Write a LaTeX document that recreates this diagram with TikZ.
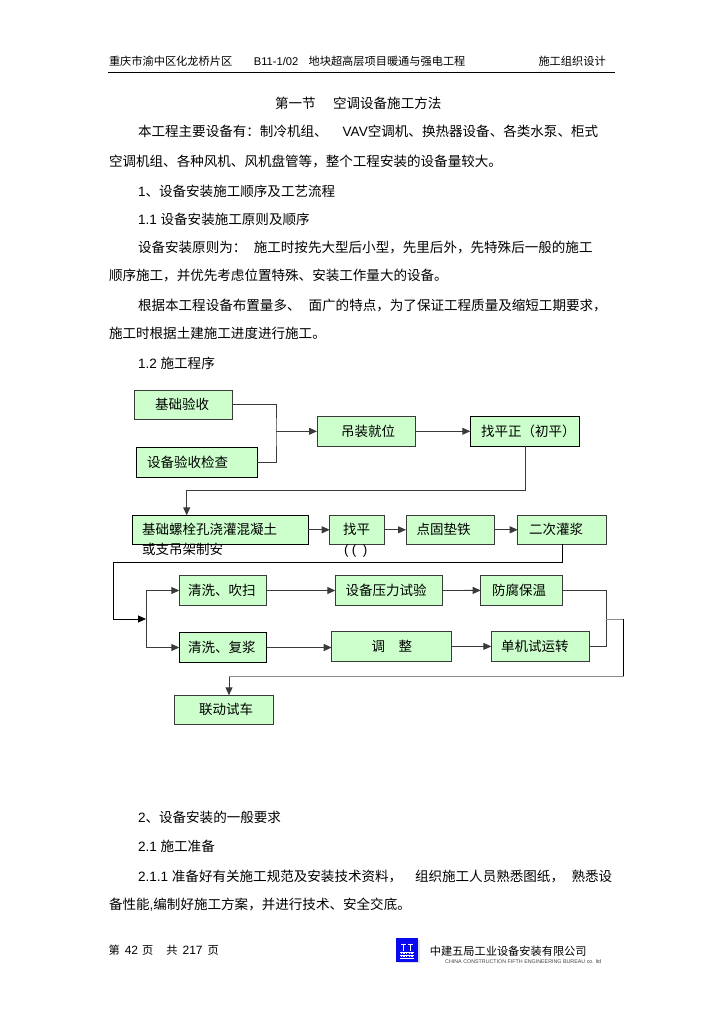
\documentclass[tikz,border=0pt]{standalone}
\usepackage{fontspec}
\setmainfont{Noto Sans CJK SC}
\newfontfamily\latf{Liberation Sans}
\usetikzlibrary{arrows.meta}
\definecolor{boxgreen}{HTML}{CCFFCC}
\definecolor{darkline}{HTML}{3A3A3A}
\definecolor{logoblue}{HTML}{0A0AF0}
\tikzset{
  txt/.style={anchor=base west,inner sep=0pt,outer sep=0pt,font=\fontsize{13.55}{15}\selectfont,text=black},
  small/.style={txt,font=\fontsize{11.2}{13}\selectfont},
  flow/.style={draw=darkline,fill=boxgreen,line width=0.9pt,inner sep=0pt,outer sep=0pt,align=left,font=\fontsize{13.5}{15}\selectfont,text=black},
  flowk/.style={flow,draw=black},
  conn/.style={draw=darkline,line width=0.9pt},
  grayconn/.style={draw=black!45,line width=0.9pt},
  arr/.style={conn,-{Triangle[length=8pt,width=7pt]}},
}
\begin{document}
\begin{tikzpicture}[x=1pt,y=-1pt]
\useasboundingbox (0,0) rectangle (724,1024);
% header
\node[small] (h1) at (109,65.2) {重庆市渝中区化龙桥片区};
\node[small] (h2) at (253.8,65.2) {\latf B11-1/02};
\node[small] (h3) at (308.6,65.2) {地块超高层项目暖通与强电工程};
\node[small] (h4) at (538.5,65.2) {施工组织设计};
\coordinate (ruleL) at (108,72.7);
\coordinate (ruleR) at (615,72.7);
\draw[line width=0.8pt] (ruleL) -- (ruleR);
% body text
\node[txt] (t1) at (275,109) {第一节};
\node[txt] (t2) at (333,109) {空调设备施工方法};
\node[txt] (b1) at (138,137) {本工程主要设备有：制冷机组、};
\node[txt] (b2) at (342.7,137) {{\latf VAV}空调机、换热器设备、各类水泵、柜式};
\node[txt] (b3) at (109,166.7) {空调机组、各种风机、风机盘管等，整个工程安装的设备量较大。};
\node[txt] (b4) at (138,196.4) {{\latf 1}、设备安装施工顺序及工艺流程};
\node[txt] (b5) at (138,224.5) {{\latf 1.1 }设备安装施工原则及顺序};
\node[txt] (b6) at (138,252) {设备安装原则为：};
\node[txt] (b7) at (253.8,252) {施工时按先大型后小型，先里后外，先特殊后一般的施工};
\node[txt] (b8) at (109,280.6) {顺序施工，并优先考虑位置特殊、安装工作量大的设备。};
\node[txt] (b9) at (138,310) {根据本工程设备布置量多、};
\node[txt] (b10) at (308.6,310) {面广的特点，为了保证工程质量及缩短工期要求，};
\node[txt] (b11) at (109,338) {施工时根据土建施工进度进行施工。};
\node[txt] (b12) at (138,368.5) {{\latf 1.2 }施工程序};
\node[txt] (c1) at (138,822.6) {{\latf 2}、设备安装的一般要求};
\node[txt] (c2) at (138,851.6) {{\latf 2.1 }施工准备};
\node[txt] (c3) at (138,881) {{\latf 2.1.1 }准备好有关施工规范及安装技术资料，};
\node[txt] (c4) at (415,881) {组织施工人员熟悉图纸，};
\node[txt] (c5) at (571.6,881) {熟悉设};
\node[txt] (c6) at (109,909.8) {备性能{\latf ,}编制好施工方案，并进行技术、安全交底。};
% footer
\node[small] (f1) at (108.6,954.5) {第\hspace{5pt}{\latf\fontsize{12}{13}\selectfont 42}\hspace{4pt}页};
\node[small] (f2) at (166.4,954.5) {共\hspace{5pt}{\latf\fontsize{12}{13}\selectfont 217}\hspace{5pt}页};
\fill[black!12] (398,940) rectangle (420,963);
\node[fill=logoblue,minimum width=22pt,minimum height=23.5pt,inner sep=0pt,outer sep=0pt] (logo) at (407,949.8) {};
\draw[white,line width=1pt] (401,944) -- (406,944) (403.5,944) -- (403.5,951) (408,944) -- (413,944) (410.5,944) -- (410.5,951)
  (400,952) -- (414,952) (400,955) -- (414,955) (400,958) -- (414,958);
\draw[white,line width=.8pt,dash pattern=on 1.5pt off 1.2pt] (400.5,953.5) -- (414,953.5) (400.5,956.5) -- (414,956.5);
\node[small] (f3) at (429.8,955.2) {中建五局工业设备安装有限公司};
\node[anchor=base west,inner sep=0pt,font=\latf\fontsize{5.33}{6}\selectfont,text=black!75] (f4) at (445,963) {CHINA CONSTRUCTION FIFTH ENGINEERING BUREAU co. ltd};
% flow boxes
\node[flow,text width=98.4pt,minimum height=29pt] (jcys) at (183.5,404.8) {\hspace*{20.7pt}基础验收};
\node[flowk,text width=120.5pt,minimum height=29.3pt] (sbys) at (196.75,462.3) {\hspace*{10.5pt}设备验收检查};
\node[flow,text width=98pt,minimum height=29.3pt] (dzjw) at (366,431.3) {\hspace*{24pt}吊装就位};
\node[flowk,text width=109.4pt,minimum height=29.3pt] (zpz) at (525,431.3) {\hspace*{10.7pt}找平正（初平）};
\node[flowk,text width=176pt,minimum height=29pt] (jcls) at (220.3,529.8) {\hspace*{9.7pt}基础螺栓孔浇灌混凝土};
\node[flow,text width=54.6pt,minimum height=29pt] (zp) at (357,529.8) {\hspace*{13.3pt}找平};
\node[flow,text width=88pt,minimum height=29pt] (dgdt) at (450,529.8) {\hspace*{10.7pt}点固垫铁};
\node[flow,text width=88.3pt,minimum height=29pt] (ecgj) at (561.85,529.8) {\hspace*{11.3pt}二次灌浆};
\node[flow,text width=87.4pt,minimum height=29.6pt] (qxcs) at (223,590.5) {\hspace*{8.7pt}清洗、吹扫};
\node[flowk,text width=87.4pt,minimum height=29.6pt] (qxfj) at (223,647.5) {\hspace*{8.7pt}清洗、复浆};
\node[flow,text width=107pt,minimum height=29.6pt] (ylsy) at (388.8,590.5) {\hspace*{10.4pt}设备压力试验};
\node[flow,text width=120pt,minimum height=29.3pt] (tz) at (391.7,646.4) {\hspace*{40pt}调\hspace{13.5pt}整};
\node[flow,text width=81.6pt,minimum height=29.3pt] (ffbw) at (521.5,590.4) {\hspace*{11.3pt}防腐保温};
\node[flow,text width=98.4pt,minimum height=29.3pt] (djsy) at (540.5,646.4) {\hspace*{9.7pt}单机试运转};
\node[flow,text width=99pt,minimum height=29pt] (ldsc) at (223.8,709.8) {\hspace*{24.7pt}联动试车};
% labels under box
\node[txt,font=\fontsize{13.5}{15}\selectfont] (hzd) at (142,554.4) {或支吊架制安};
\node[txt,font=\latf\fontsize{13.5}{15}\selectfont] (kh) at (344,554.4) {(\hspace{3.5pt}(\hspace{6.5pt})};
% connectors
\coordinate (j1) at (276,431.3);
\draw[conn] (jcys.east) -| (j1) |- (sbys.east);
\draw[arr] (j1) -- (dzjw.west);
\draw[arr] (dzjw.east) -- (zpz.west);
\coordinate (c1a) at (525.3,490.3);
\coordinate (c1b) at (186.7,490.3);
\draw[arr] (zpz.south -| c1a) -- (c1a) -- (c1b) -- (c1b |- jcls.north);
\draw[arr] (jcls.east) -- (zp.west);
\draw[arr] (zp.east) -- (dgdt.west);
\draw[arr] (dgdt.east) -- (ecgj.west);
\coordinate (d1) at (562,562.3);
\coordinate (d2) at (113.7,562.3);
\coordinate (d3) at (113.7,619);
\coordinate (d4) at (146,619);
\draw[arr,draw=black] (ecgj.south -| d1) -- (d1) -- (d2) -- (d3) -- (d4);
\draw[arr] (d4) |- (qxcs.west);
\draw[arr] (d4) |- (qxfj.west);
\draw[arr] (qxcs.east) -- (ylsy.west);
\draw[arr] (ylsy.east) -- (ffbw.west);
\draw[arr] (qxfj.east) -- (tz.west |- qxfj.east);
\draw[arr] (tz.east) -- (djsy.west);
\coordinate (e1) at (606,590.4);
\coordinate (e2) at (606,619);
\coordinate (e3) at (623.7,619);
\coordinate (e4) at (623.7,676.7);
\coordinate (e5) at (229,676.7);
\draw[conn] (ffbw.east) -- (e1) |- (djsy.east);
\draw[grayconn] (e2) -- (e3);
\draw[conn,draw=black] (e3) -- (e4);
\draw[grayconn] (e4) -- (e5);
\draw[arr] (e5) -- (e5 |- ldsc.north);
\end{tikzpicture}
\end{document}
